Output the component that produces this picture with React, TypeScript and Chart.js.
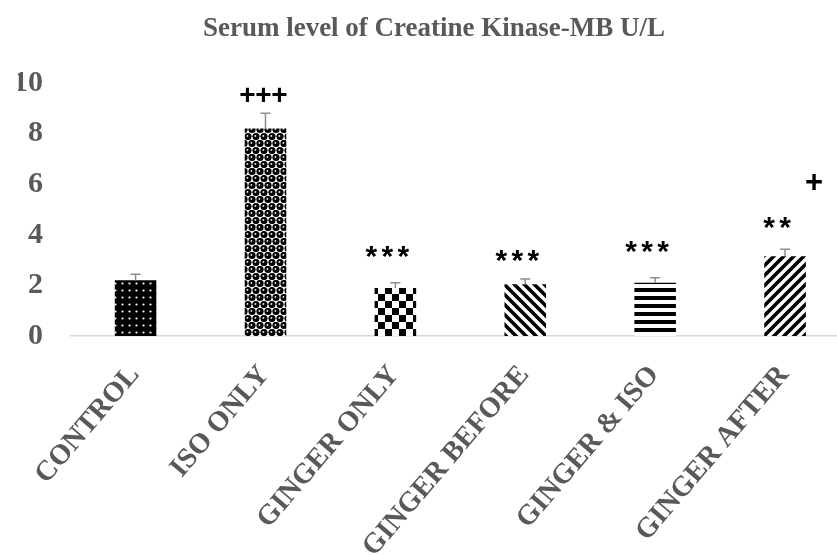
import React, { useEffect, useRef } from 'react';
import { Chart, registerables } from 'chart.js';

Chart.register(...registerables);

const categories = ['CONTROL', 'ISO ONLY', 'GINGER ONLY', 'GINGER BEFORE', 'GINGER & ISO', 'GINGER AFTER'];
const values = [2.2, 8.2, 1.9, 2.05, 2.1, 3.15];
const errors = [0.24, 0.6, 0.2, 0.2, 0.2, 0.28];
const marks = ['', '+++', '***', '***', '***', '**'];
const markValues = [0, 9.53, 3.32, 3.17, 3.5, 4.47];
const extraMarks = ['+'];
const extraMarkIndex = [5];
const extraMarkValues = [6.1];
const yTickValues = [0, 2, 4, 6, 8, 10];
const titleText = 'Serum level of Creatine Kinase-MB U/L';

function makePattern(w: number, h: number, draw: (c: CanvasRenderingContext2D) => void) {
  const cv = document.createElement('canvas');
  cv.width = w;
  cv.height = h;
  const c = cv.getContext('2d')!;
  draw(c);
  return c.createPattern(cv, 'repeat')!;
}

function buildPatterns() {
  const dotsOnBlack = makePattern(7, 7, (c) => {
    c.fillStyle = '#000';
    c.fillRect(0, 0, 7, 7);
    c.fillStyle = '#fff';
    c.beginPath();
    c.arc(3.5, 3.5, 1.1, 0, Math.PI * 2);
    c.fill();
  });
  const balls = makePattern(8, 14, (c) => {
    c.fillStyle = '#fff';
    c.fillRect(0, 0, 8, 14);
    const centers = [[4, 3.5], [0, 10.5], [8, 10.5]];
    for (const [x, y] of centers) {
      c.fillStyle = '#000';
      c.beginPath();
      c.arc(x, y, 3.6, 0, Math.PI * 2);
      c.fill();
      c.fillStyle = '#fff';
      c.beginPath();
      c.arc(x - 0.6, y - 0.6, 0.9, 0, Math.PI * 2);
      c.fill();
    }
  });
  const checker = makePattern(14, 14, (c) => {
    c.fillStyle = '#fff';
    c.fillRect(0, 0, 14, 14);
    c.fillStyle = '#000';
    c.fillRect(0, 0, 7, 7);
    c.fillRect(7, 7, 7, 7);
  });
  const back = makePattern(10, 10, (c) => {
    c.fillStyle = '#fff';
    c.fillRect(0, 0, 10, 10);
    c.strokeStyle = '#000';
    c.lineWidth = 3.6;
    c.beginPath();
    c.moveTo(-5, -5); c.lineTo(15, 15);
    c.moveTo(-5, 5); c.lineTo(5, 15);
    c.moveTo(5, -5); c.lineTo(15, 5);
    c.stroke();
  });
  const horiz = makePattern(8, 8, (c) => {
    c.fillStyle = '#fff';
    c.fillRect(0, 0, 8, 8);
    c.fillStyle = '#000';
    c.fillRect(0, 0, 8, 4);
  });
  const fwd = makePattern(10, 10, (c) => {
    c.fillStyle = '#fff';
    c.fillRect(0, 0, 10, 10);
    c.strokeStyle = '#000';
    c.lineWidth = 3.6;
    c.beginPath();
    c.moveTo(-5, 15); c.lineTo(15, -5);
    c.moveTo(-5, 5); c.lineTo(5, -5);
    c.moveTo(5, 15); c.lineTo(15, 5);
    c.stroke();
  });
  return [dotsOnBlack, balls, checker, back, horiz, fwd];
}

const annotationPlugin = {
  id: 'errorsAndMarks',
  afterDatasetsDraw(chart: any) {
    const ctx: CanvasRenderingContext2D = chart.ctx;
    const y = chart.scales.y;
    const meta = chart.getDatasetMeta(0);
    ctx.save();
    meta.data.forEach((bar: any, i: number) => {
      const x = bar.x;
      const top = y.getPixelForValue(values[i]);
      const et = y.getPixelForValue(values[i] + errors[i]);
      ctx.strokeStyle = '#8c8c8c';
      ctx.lineWidth = 1.5;
      ctx.beginPath();
      ctx.moveTo(x, top);
      ctx.lineTo(x, et);
      ctx.moveTo(x - 5, et);
      ctx.lineTo(x + 5, et);
      ctx.stroke();
    });
    const drawGlyphs = (text: string, cx: number, cy: number, size: number, step: number) => {
      ctx.font = `bold ${size}px "Liberation Sans"`;
      ctx.fillStyle = '#000';
      ctx.textAlign = 'center';
      ctx.textBaseline = 'alphabetic';
      const chars = text.split('');
      const start = cx - ((chars.length - 1) * step) / 2;
      chars.forEach((ch, k) => {
        const m = ctx.measureText(ch);
        const off = (m.actualBoundingBoxAscent - m.actualBoundingBoxDescent) / 2;
        ctx.fillText(ch, start + k * step, cy + off);
      });
    };
    marks.forEach((mk, i) => {
      if (!mk) return;
      const bar: any = meta.data[i];
      const cy = y.getPixelForValue(markValues[i]);
      if (mk.startsWith('+')) {
        drawGlyphs(mk, bar.x - 2, cy, 28, 16);
      } else {
        drawGlyphs(mk, bar.x - 8, cy, 30, 16);
      }
    });
    extraMarks.forEach((mk, k) => {
      const bar: any = meta.data[extraMarkIndex[k]];
      const cy = y.getPixelForValue(extraMarkValues[k]);
      drawGlyphs(mk, bar.x + bar.width * 0.7, cy, 31, 16);
    });
    ctx.restore();
  },
};

export default function App() {
  const ref = useRef<HTMLCanvasElement | null>(null);
  useEffect(() => {
    document.body.style.margin = '0';
    const canvas = ref.current!;
    const patterns = buildPatterns();
    const chart = new Chart(canvas, {
      type: 'bar',
      data: {
        labels: categories,
        datasets: [
          {
            data: values,
            backgroundColor: patterns as any,
            borderWidth: 0,
            barPercentage: 0.32,
            categoryPercentage: 1,
          },
        ],
      },
      options: {
        responsive: false,
        animation: false,
        layout: { padding: { left: 18, right: 0, top: 0, bottom: 0 } },
        plugins: {
          legend: { display: false },
          tooltip: { enabled: false },
          title: {
            display: true,
            text: titleText,
            color: '#595959',
            font: { family: '"Liberation Serif"', size: 27, weight: 'bold' },
            padding: { top: 13, bottom: 37.6 },
          },
        },
        scales: {
          x: {
            grid: { display: false, drawTicks: false },
            border: { display: true, color: '#d9d9d9', width: 1.5 },
            ticks: {
              color: '#595959',
              font: { family: '"Liberation Serif"', size: 28.5, weight: 'bold' },
              minRotation: 49.5,
              maxRotation: 49.5,
              padding: 23,
              labelOffset: -1,
              autoSkip: false,
            },
            afterFit: (s: any) => {
              s.height = 219;
            },
          },
          y: {
            min: 0,
            max: 10,
            grid: { display: false, drawTicks: false },
            border: { display: false },
            afterBuildTicks: (s: any) => {
              s.ticks = yTickValues.map((v) => ({ value: v }));
            },
            ticks: {
              color: '#595959',
              font: { family: '"Liberation Serif"', size: 30, weight: 'bold' },
              padding: 27.65,
            },
            afterFit: (s: any) => {
              s.width = 52.65;
            },
          },
        },
      },
      plugins: [annotationPlugin],
    });
    return () => chart.destroy();
  }, []);
  return (
    <div style={{ width: 837, height: 555, overflow: 'hidden' }}>
      <canvas ref={ref} width={850} height={555} />
    </div>
  );
}
